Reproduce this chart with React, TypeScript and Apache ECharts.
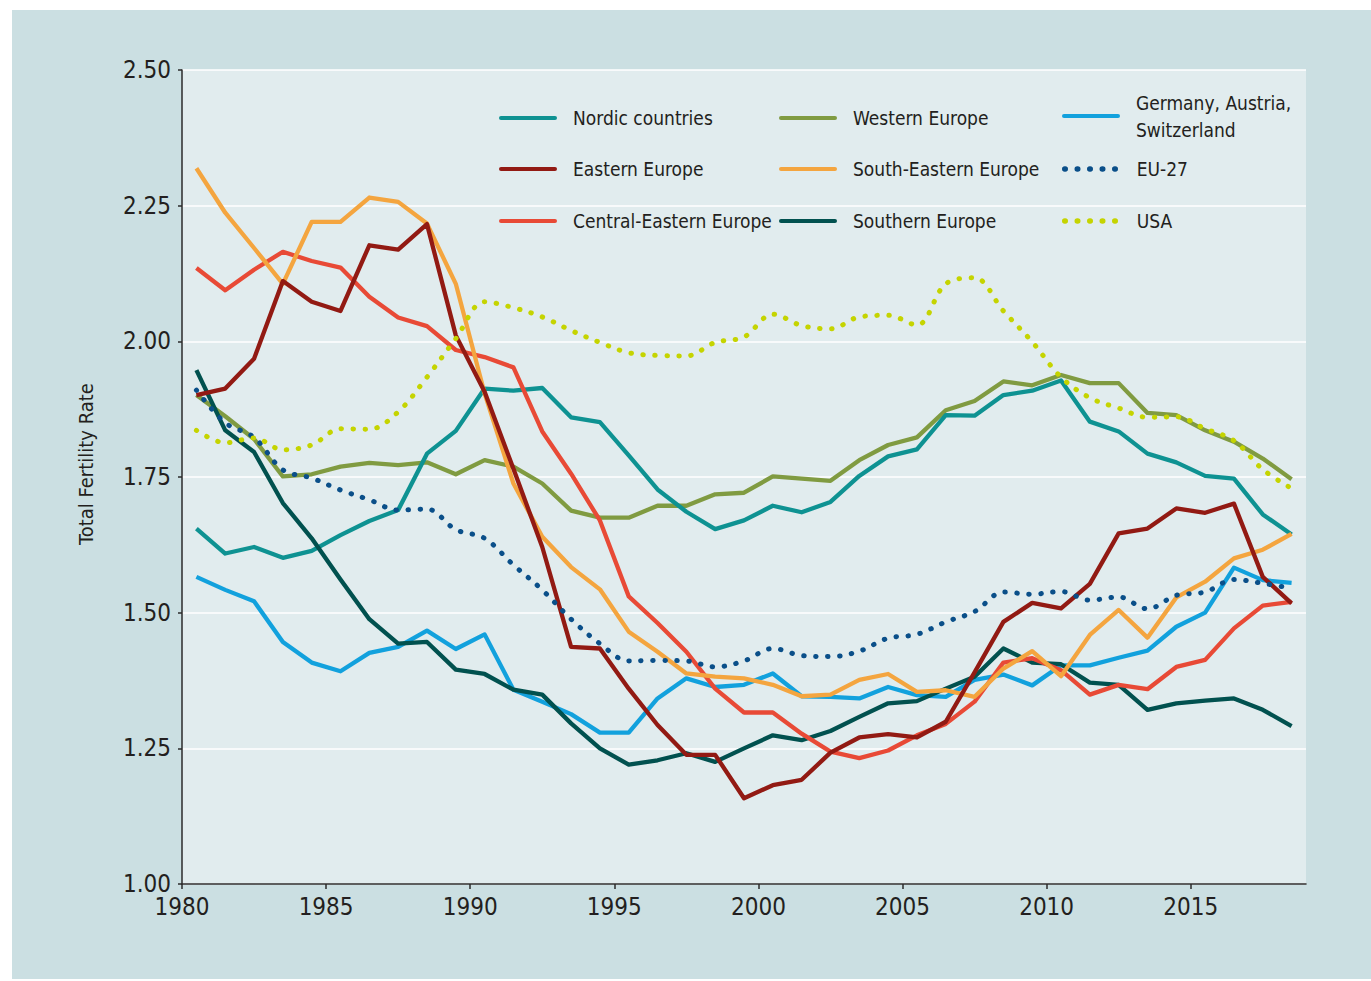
import React, { useEffect, useRef } from "react";
import * as echarts from "echarts";

const years = [
  1980, 1981, 1982, 1983, 1984, 1985, 1986, 1987, 1988, 1989,
  1990, 1991, 1992, 1993, 1994, 1995, 1996, 1997, 1998, 1999,
  2000, 2001, 2002, 2003, 2004, 2005, 2006, 2007, 2008, 2009,
  2010, 2011, 2012, 2013, 2014, 2015, 2016, 2017, 2018,
];
const xTickLabels = [1980, 1985, 1990, 1995, 2000, 2005, 2010, 2015];

const nordic = [
  1.655, 1.609, 1.621, 1.601, 1.614, 1.643, 1.669, 1.689, 1.793, 1.835,
  1.913, 1.909, 1.914, 1.86, 1.851, 1.79, 1.727, 1.686, 1.654, 1.67,
  1.697, 1.685, 1.704, 1.752, 1.788, 1.801, 1.864, 1.863, 1.901, 1.909,
  1.928, 1.852, 1.834, 1.793, 1.777, 1.752, 1.747, 1.681, 1.644,
];
const western = [
  1.901, 1.862, 1.82, 1.751, 1.755, 1.769, 1.776, 1.772, 1.777, 1.755,
  1.781, 1.769, 1.738, 1.688, 1.675, 1.675, 1.697, 1.697, 1.718, 1.721,
  1.751, 1.747, 1.743, 1.781, 1.809, 1.823, 1.873, 1.89, 1.926, 1.919,
  1.938, 1.923, 1.923, 1.868, 1.864, 1.836, 1.815, 1.784, 1.746,
];
const gas = [
  1.566, 1.542, 1.521, 1.446, 1.408, 1.392, 1.426, 1.437, 1.467, 1.433,
  1.46, 1.358, 1.336, 1.313, 1.279, 1.279, 1.342, 1.379, 1.363, 1.367,
  1.388, 1.346, 1.345, 1.342, 1.363, 1.348, 1.345, 1.376, 1.386, 1.366,
  1.403, 1.403, 1.417, 1.43, 1.474, 1.5, 1.583, 1.56, 1.555,
];
const eastern = [
  1.901, 1.913, 1.968, 2.111, 2.073, 2.056, 2.177, 2.169, 2.216, 2.011,
  1.907, 1.765, 1.621, 1.437, 1.434, 1.36, 1.293, 1.238, 1.238, 1.158,
  1.182, 1.192, 1.242, 1.27, 1.276, 1.27, 1.299, 1.39, 1.483, 1.518,
  1.508, 1.553, 1.646, 1.655, 1.692, 1.684, 1.701, 1.566, 1.517,
];
const southEastern = [
  2.319, 2.237, 2.172, 2.106, 2.22, 2.22, 2.265, 2.257, 2.217, 2.106,
  1.904, 1.738, 1.64, 1.584, 1.543, 1.465, 1.428, 1.388, 1.382, 1.379,
  1.367, 1.346, 1.349, 1.376, 1.387, 1.354, 1.357, 1.345, 1.397, 1.429,
  1.383, 1.459, 1.505, 1.454, 1.528, 1.557, 1.6, 1.616, 1.645,
];
const eu27 = [
  1.91, 1.85, 1.823, 1.763, 1.748, 1.726, 1.708, 1.689, 1.691, 1.653,
  1.637, 1.588, 1.542, 1.488, 1.443, 1.411, 1.412, 1.411, 1.4, 1.411,
  1.434, 1.421, 1.419, 1.429, 1.453, 1.46, 1.483, 1.502, 1.538, 1.534,
  1.539, 1.523, 1.529, 1.507, 1.532, 1.538, 1.561, 1.554, 1.545,
];
const centralEastern = [
  2.135, 2.094, 2.132, 2.165, 2.148, 2.136, 2.082, 2.044, 2.028, 1.984,
  1.971, 1.952, 1.834, 1.756, 1.67, 1.53, 1.481, 1.428, 1.36, 1.316,
  1.316, 1.277, 1.244, 1.232, 1.246, 1.274, 1.295, 1.336, 1.408, 1.416,
  1.394, 1.349, 1.367, 1.359, 1.4, 1.413, 1.471, 1.513, 1.52,
];
const southern = [
  1.947, 1.836, 1.796, 1.702, 1.637, 1.561, 1.488, 1.443, 1.446, 1.395,
  1.387, 1.358, 1.349, 1.296, 1.25, 1.22, 1.228, 1.241, 1.225, 1.25,
  1.274, 1.265, 1.282, 1.308, 1.333, 1.337, 1.36, 1.382, 1.434, 1.408,
  1.405, 1.371, 1.367, 1.321, 1.333, 1.338, 1.342, 1.321, 1.291,
];
const usa = [
  1.836, 1.813, 1.822, 1.8, 1.809, 1.839, 1.838, 1.87, 1.934, 2.005,
  2.073, 2.062, 2.045, 2.02, 1.998, 1.979, 1.974, 1.973, 1.998, 2.008,
  2.05, 2.029, 2.023, 2.045, 2.048, 2.03, 2.106, 2.117, 2.056, 1.999,
  1.934, 1.896, 1.877, 1.86, 1.861, 1.839, 1.817, 1.764, 1.729,
];

const seriesNames = [
  "Nordic countries",
  "Western Europe",
  "Germany, Austria, Switzerland",
  "Eastern Europe",
  "South-Eastern Europe",
  "EU-27",
  "Central-Eastern Europe",
  "Southern Europe",
  "USA",
];

const FONT = "'DejaVu Sans Condensed', 'Liberation Sans', sans-serif";
const TEXT = "#231f20";

export default function App() {
  const ref = useRef<HTMLDivElement>(null);

  useEffect(() => {
    if (!ref.current) return;
    const chart = echarts.init(ref.current, null, { renderer: "svg" });

    const toPts = (vals: number[]) => years.map((y, i) => [y + 0.5, vals[i]]);

    const solid = (name: string, vals: number[], color: string) => ({
      name,
      type: "line",
      data: toPts(vals),
      symbol: "none",
      color,
      lineStyle: { color, width: 4.3, join: "round" },
    });
    const dotted = (name: string, vals: number[], color: string) => ({
      name,
      type: "line",
      data: toPts(vals),
      symbol: "none",
      smooth: 0.35,
      color,
      lineStyle: { color, width: 5, type: [0.5, 11.5], cap: "round" },
    });

    const series = [
      solid(seriesNames[1], western, "#809b41"),
      solid(seriesNames[0], nordic, "#0e9292"),
      solid(seriesNames[2], gas, "#12a1dd"),
      solid(seriesNames[7], southern, "#01514f"),
      solid(seriesNames[6], centralEastern, "#e84a36"),
      solid(seriesNames[4], southEastern, "#f4a53f"),
      solid(seriesNames[3], eastern, "#921a13"),
      dotted(seriesNames[5], eu27, "#0a4f89"),
      dotted(seriesNames[8], usa, "#c5d400"),
    ];

    const legendSpots = [
      { name: seriesNames[0], left: 499, top: 104.5, dots: false },
      { name: seriesNames[3], left: 499, top: 155.5, dots: false },
      { name: seriesNames[6], left: 499, top: 207.5, dots: false },
      { name: seriesNames[1], left: 779, top: 104.5, dots: false },
      { name: seriesNames[4], left: 779, top: 155.5, dots: false },
      { name: seriesNames[7], left: 779, top: 207.5, dots: false },
      { name: seriesNames[2], left: 1062, top: 89, dots: false },
      { name: seriesNames[5], left: 1062, top: 155.5, dots: true },
      { name: seriesNames[8], left: 1062, top: 207.5, dots: true },
    ];

    const legend = legendSpots.map((l) => ({
      data: [l.name],
      left: l.left,
      top: l.top,
      padding: 0,
      itemWidth: l.dots ? 52 : 54,
      itemHeight: 14,
      selectedMode: false,
      itemStyle: { opacity: 0 },
      lineStyle: l.dots
        ? { width: 5.5, cap: "round", type: [0.5, 12] }
        : { width: 4, cap: "round" },
      formatter: (n: string) =>
        n === seriesNames[2] ? "Germany, Austria,\nSwitzerland" : n,
      textStyle: {
        fontFamily: FONT,
        fontSize: 19,
        color: TEXT,
        lineHeight: 27,
        padding: [0, 0, 0, l.dots ? 15 : 13],
      },
    }));

    chart.setOption({
      animation: false,
      backgroundColor: "transparent",
      grid: {
        left: 182,
        right: 65,
        top: 70,
        bottom: 97,
        show: true,
        backgroundColor: "#e1ecee",
        borderWidth: 0,
      },
      legend,
      xAxis: {
        type: "value",
        min: 1980,
        max: 2019,
        interval: 5,
        axisLine: { show: true, lineStyle: { color: "#2b2b2b", width: 1.5 } },
        axisTick: {
          show: true,
          length: 5,
          inside: false,
          customValues: xTickLabels,
          lineStyle: { color: "#2b2b2b", width: 1.5 },
        },
        axisLabel: {
          customValues: xTickLabels,
          formatter: (v: number) => String(v),
          fontFamily: FONT,
          fontSize: 24,
          color: TEXT,
          margin: 11,
        },
        splitLine: { show: false },
      },
      yAxis: {
        type: "value",
        min: 1,
        max: 2.5,
        interval: 0.25,
        axisLine: { show: true, lineStyle: { color: "#2b2b2b", width: 1.5 } },
        axisTick: {
          show: true,
          length: 4,
          inside: false,
          lineStyle: { color: "#2b2b2b", width: 1.5 },
        },
        axisLabel: {
          formatter: (v: number) => v.toFixed(2),
          fontFamily: FONT,
          fontSize: 24,
          color: TEXT,
          margin: 11,
        },
        splitLine: { show: true, lineStyle: { color: "#ffffff", width: 1.5 } },
      },
      graphic: [
        {
          type: "text",
          x: 86,
          y: 464,
          rotation: Math.PI / 2,
          style: {
            text: "Total Fertility Rate",
            fontFamily: FONT,
            fontSize: 20,
            fill: TEXT,
            align: "center",
            verticalAlign: "middle",
          },
        },
      ],
      series,
    });

    return () => chart.dispose();
  }, []);

  return (
    <div
      style={{
        position: "absolute",
        left: 0,
        top: 0,
        width: 1371,
        height: 981,
        background: "#ffffff",
      }}
    >
      <div
        style={{
          position: "absolute",
          left: 12,
          top: 10,
          width: 1359,
          height: 969,
          background: "#cbdfe2",
        }}
      />
      <div
        ref={ref}
        style={{ position: "absolute", left: 0, top: 0, width: 1371, height: 981 }}
      />
    </div>
  );
}
